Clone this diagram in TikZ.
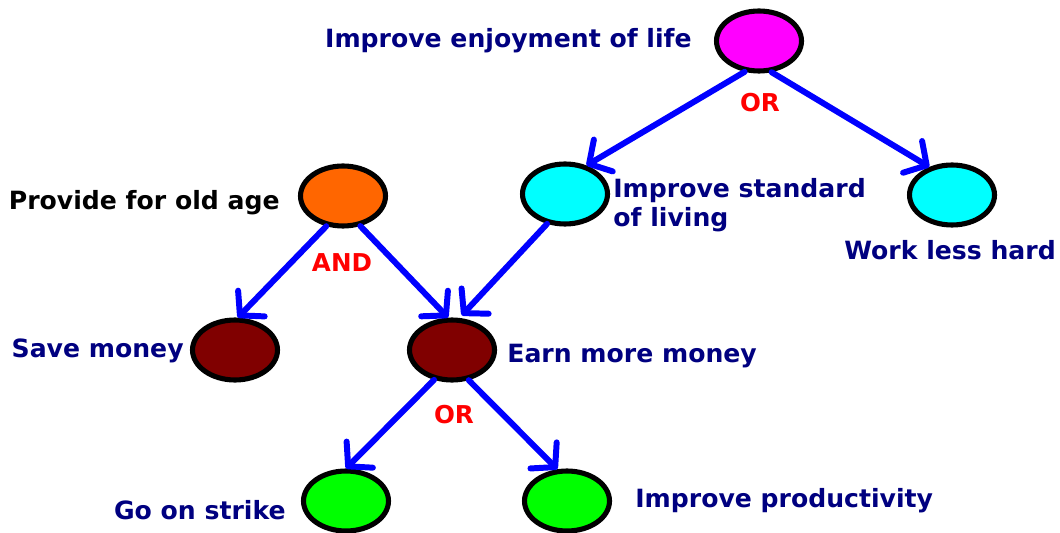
\documentclass[tikz,border=0pt]{standalone}
\usepackage{fontspec}
\setmainfont{DejaVu Sans}
\usetikzlibrary{shapes,arrows.meta,positioning}
\definecolor{navytext}{RGB}{0,0,128}
\definecolor{linkblue}{RGB}{0,0,255}
\definecolor{fillpink}{RGB}{255,0,255}
\definecolor{fillorange}{RGB}{255,102,0}
\definecolor{fillcyan}{RGB}{0,255,255}
\definecolor{fillmaroon}{RGB}{128,0,0}
\definecolor{fillgreen}{RGB}{0,255,0}

\begin{document}
\begin{tikzpicture}[x=0.02cm, y=-0.02cm,
    goal/.style={ellipse, draw, line width=2.9pt, inner sep=0pt, minimum width=1.7cm, minimum height=1.2cm},
    lbl/.style={inner sep=0pt, text=navytext, font=\bfseries\fontsize{14.3}{17}\selectfont},
    gate/.style={inner sep=0pt, text=red, font=\bfseries\fontsize{14}{16}\selectfont},
    link/.style={draw=linkblue, line width=3.4pt, line cap=round, -{Straight Barb[length=3.3mm,width=7.4mm,round]}}]
            \useasboundingbox (0,0) rectangle (1060,533);

            \node (life) [goal, fill=fillpink] at (759,41) {};
            \node (oldage) [goal, fill=fillorange] at (343,196) {};
            \node (standard) [goal, fill=fillcyan] at (565,194) {};
            \node (lesshard) [goal, fill=fillcyan] at (952,195) {};
            \node (save) [goal, fill=fillmaroon] at (235,350) {};
            \node (earn) [goal, fill=fillmaroon] at (452,350) {};
            \node (strike) [goal, fill=fillgreen] at (346,501) {};
            \node (productivity) [goal, fill=fillgreen] at (567,501) {};

            \node (lifetext) [lbl, anchor=base east] at (692,48) {Improve enjoyment of life};
            \node (oldagetext) [lbl, anchor=base east, text=black] at (280,210) {Provide for old age};
            \node (standardtext) [lbl, anchor=base west, align=left] at (613,227) {Improve standard\\of living};
            \node (lesshardtext) [lbl, anchor=base west] at (844,259) {Work less hard};
            \node (savetext) [lbl, anchor=base east] at (184,357) {Save money};
            \node (earntext) [lbl, anchor=base west] at (507,362) {Earn more money};
            \node (striketext) [lbl, anchor=base east] at (286,519) {Go on strike};
            \node (productivitytext) [lbl, anchor=base west] at (635,507) {Improve productivity};

            \node (or1) [gate, anchor=base] at (760,112) {OR};
            \node (and) [gate, anchor=base] at (342,272) {AND};
            \node (or2) [gate, anchor=base] at (454,423) {OR};

            \draw [link] (life.245) -- (standard.53);
            \draw [link] (life.292) -- (lesshard.129);
            \draw [link] (oldage.241) -- (save.85);
            \draw [link] (oldage.300) -- (earn.97);
            \draw [link, shorten >=2pt] (standard.239) -- (earn.77);
            \draw [link] (earn.239) -- (strike.90);
            \draw [link] (earn.299) -- (productivity.107);
        \end{tikzpicture}
\end{document}
